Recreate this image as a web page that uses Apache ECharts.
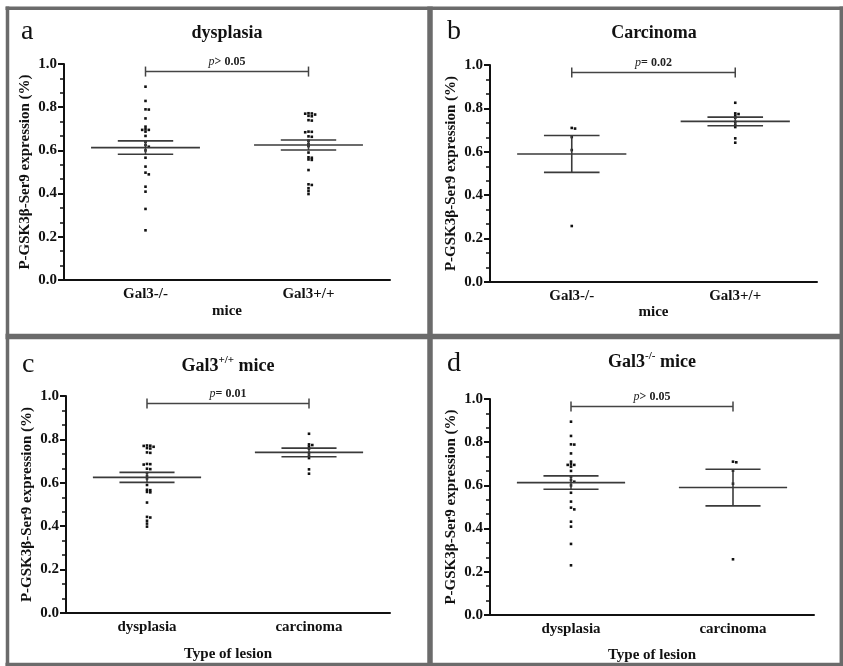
<!DOCTYPE html>
<html><head><meta charset="utf-8">
<script src="https://cdn.jsdelivr.net/npm/echarts@6/dist/echarts.min.js"></script>
<style>html,body{margin:0;padding:0;background:#fff}#c{width:843px;height:666px}</style>
</head><body><div id="c"></div>
<script>
// ---------- data ----------
const genotypeCategories = ['Gal3-/-', 'Gal3+/+'];
const lesionCategories = ['dysplasia', 'carcinoma'];
const yAxisName = 'P-GSK3β-Ser9 expression (%)';
const panelLetters = ['a', 'b', 'c', 'd'];
const panelXNames = ['mice', 'mice', 'Type of lesion', 'Type of lesion'];

const dysplasiaKO = [0.895, 0.829, 0.790, 0.789, 0.748, 0.710, 0.698, 0.695, 0.695, 0.687, 0.667, 0.640,
  0.625, 0.617, 0.600, 0.566, 0.525, 0.497, 0.489, 0.432, 0.409, 0.329, 0.230];
const dysplasiaWT = [0.772, 0.771, 0.770, 0.766, 0.760, 0.758, 0.740, 0.738, 0.687, 0.686, 0.684, 0.665,
  0.663, 0.645, 0.630, 0.620, 0.590, 0.568, 0.566, 0.558, 0.556, 0.509, 0.443, 0.440, 0.425, 0.412, 0.398];
const carcinomaKO = [0.710, 0.707, 0.668, 0.608, 0.258];
const carcinomaWT = [0.826, 0.777, 0.774, 0.767, 0.757, 0.738, 0.725, 0.714, 0.662, 0.642];

// order: dysplasiaKO, dysplasiaWT, carcinomaKO, carcinomaWT
const groupMeans = [0.613, 0.625, 0.590, 0.740];
const groupSems = [0.031, 0.023, 0.085, 0.020];

const pSigns = ['> 0.05', '= 0.02', '= 0.01', '> 0.05'];
const bracketLevel = 0.965;

// ---------- build ----------
const groups = [dysplasiaKO, dysplasiaWT, carcinomaKO, carcinomaWT];
const panelGroups = [[0, 1], [2, 3], [1, 3], [0, 2]];
const panelCategories = [genotypeCategories, genotypeCategories, lesionCategories, lesionCategories];

const FONT = '"Liberation Serif", "DejaVu Serif", serif';
const grids = [
  {left: 64, top: 64, width: 326, height: 216},
  {left: 490, top: 65, width: 327, height: 217},
  {left: 66, top: 396, width: 324, height: 217},
  {left: 490, top: 399, width: 324, height: 216}
];
const xNameGaps = [24, 23, 34, 33];

function swarm(values) {
  const thr = 0.0095;
  const placed = [];
  const ks = new Array(values.length);
  const order = values.map((v, i) => i).sort((a, b) => values[b] - values[a]);
  const cand = [0, 1, -1, 2, -2, 3, -3, 4, -4];
  order.forEach(i => {
    const v = values[i];
    for (const k of cand) {
      if (!placed.some(p => p.k === k && Math.abs(p.v - v) < thr)) {
        ks[i] = k; placed.push({v, k}); break;
      }
    }
  });
  return ks;
}

const xAxes = [], yAxes = [], series = [];
for (let p = 0; p < 4; p++) {
  xAxes.push({
    type: 'category', gridIndex: p, data: panelCategories[p], boundaryGap: true,
    axisLine: {lineStyle: {color: '#111', width: 2}},
    axisTick: {alignWithLabel: true, length: 6, lineStyle: {color: '#111', width: 2}},
    axisLabel: {color: '#111', fontFamily: FONT, fontWeight: 'bold', fontSize: 15, margin: 7},
    splitLine: {show: false},
    name: panelXNames[p], nameLocation: 'middle', nameGap: xNameGaps[p],
    nameTextStyle: {color: '#111', fontFamily: FONT, fontWeight: 'bold', fontSize: 15}
  });
  yAxes.push({
    type: 'value', gridIndex: p, min: 0, max: 1, interval: 0.2,
    axisLine: {show: true, lineStyle: {color: '#111', width: 2}},
    axisTick: {show: true, length: 6, lineStyle: {color: '#111', width: 2}},
    minorTick: {show: true, splitNumber: 3, length: 4, lineStyle: {color: '#111', width: 1.5}},
    splitLine: {show: false},
    axisLabel: {color: '#111', fontFamily: FONT, fontWeight: 'bold', fontSize: 15, margin: 7,
      formatter: v => v.toFixed(1)},
    name: yAxisName, nameLocation: 'middle', nameGap: 31, nameRotate: 90,
    nameTextStyle: {color: '#111', fontFamily: FONT, fontWeight: 'bold', fontSize: 15}
  });

  // dots
  panelGroups[p].forEach((g, ci) => {
    const vals = groups[g];
    const ks = swarm(vals);
    series.push({
      type: 'custom', xAxisIndex: p, yAxisIndex: p, silent: true,
      encode: {x: 0, y: 1},
      data: vals.map((v, i) => [ci, v, ks[i]]),
      renderItem: (params, api) => {
        const pt = api.coord([api.value(0), api.value(1)]);
        return {type: 'rect',
          shape: {x: pt[0] + api.value(2) * 3.3 - 1.3, y: pt[1] - 1.3, width: 2.6, height: 2.6},
          style: {fill: '#111'}};
      }
    });
  });

  // mean ± SEM
  series.push({
    type: 'custom', xAxisIndex: p, yAxisIndex: p, silent: true,
    encode: {x: 0, y: 1},
    data: panelGroups[p].map((g, ci) => [ci, groupMeans[g], groupSems[g]]),
    renderItem: (params, api) => {
      const c = api.value(0), m = api.value(1), s = api.value(2);
      const band = api.size([1, 0])[0];
      const pm = api.coord([c, m]), pu = api.coord([c, m + s]), pl = api.coord([c, m - s]);
      const hw = band * 0.334, cw = band * 0.17;
      const st = {stroke: '#3a3a3a', lineWidth: 1.6};
      const ln = (x1, y1, x2, y2) => ({type: 'line', shape: {x1, y1, x2, y2}, style: st});
      return {type: 'group', children: [
        ln(pm[0] - hw, pm[1], pm[0] + hw, pm[1]),
        ln(pu[0] - cw, pu[1], pu[0] + cw, pu[1]),
        ln(pl[0] - cw, pl[1], pl[0] + cw, pl[1]),
        ln(pm[0], pu[1], pm[0], pl[1])
      ]};
    }
  });

  // significance bracket
  const sign = pSigns[p];
  series.push({
    type: 'custom', xAxisIndex: p, yAxisIndex: p, silent: true,
    encode: {x: 0, y: 1},
    data: [[0, bracketLevel]],
    renderItem: (params, api) => {
      const y = api.value(1);
      const a = api.coord([0, y]), b = api.coord([1, y]);
      const st = {stroke: '#444', lineWidth: 1.5};
      const ln = (x1, y1, x2, y2) => ({type: 'line', shape: {x1, y1, x2, y2}, style: st});
      return {type: 'group', children: [
        ln(a[0], a[1], b[0], b[1]),
        ln(a[0], a[1] - 5, a[0], a[1] + 5),
        ln(b[0], b[1] - 5, b[0], b[1] + 5),
        {type: 'text', style: {
          x: (a[0] + b[0]) / 2, y: a[1] - 10, align: 'center', verticalAlign: 'middle',
          text: '{i|p}{b|' + sign + '}',
          rich: {
            i: {fontFamily: FONT, fontStyle: 'italic', fontSize: 12, fill: '#222'},
            b: {fontFamily: FONT, fontWeight: 'bold', fontSize: 12, fill: '#222'}
          }
        }}
      ]};
    }
  });
}

const titleRich = {
  a: {fontFamily: FONT, fontWeight: 'bold', fontSize: 18, lineHeight: 22, fill: '#111'},
  s: {fontFamily: FONT, fontWeight: 'bold', fontSize: 11, lineHeight: 11, verticalAlign: 'top', fill: '#111'}
};
const panelTitles = ['{a|dysplasia}', '{a|Carcinoma}', '{a|Gal3}{s|+/+}{a| mice}', '{a|Gal3}{s|-/-}{a| mice}'];
const titlePos = [[227, 33], [654, 33], [228, 366], [652, 362]];
const letterPos = [[21, 32], [447, 32], [22, 365], [447, 364]];

const frameColor = '#6b6b6b';
const frameLine = (x1, y1, x2, y2, w) => ({type: 'line', shape: {x1, y1, x2, y2},
  style: {stroke: frameColor, lineWidth: w}, silent: true});

const graphics = [
  frameLine(5.5, 8.3, 843, 8.3, 3.5),
  frameLine(7.5, 6.5, 7.5, 666, 3.5),
  frameLine(841.3, 6.5, 841.3, 666, 3.5),
  frameLine(5.5, 664.5, 843, 664.5, 3.5),
  frameLine(430, 6.5, 430, 666, 5.5),
  frameLine(5.5, 336.5, 843, 336.5, 5.5)
];
for (let p = 0; p < 4; p++) {
  graphics.push({type: 'text', x: titlePos[p][0], y: titlePos[p][1], silent: true,
    style: {text: panelTitles[p], rich: titleRich, align: 'center', verticalAlign: 'middle'}});
  graphics.push({type: 'text', x: letterPos[p][0], y: letterPos[p][1], silent: true,
    style: {text: panelLetters[p], fontFamily: FONT, fontSize: 28, fill: '#111',
      align: 'left', verticalAlign: 'middle'}});
}

const chart = echarts.init(document.getElementById('c'), null, {renderer: 'canvas'});
chart.setOption({
  animation: false,
  backgroundColor: '#fff',
  grid: grids,
  xAxis: xAxes,
  yAxis: yAxes,
  series: series,
  graphic: graphics
});
</script>
</body></html>
